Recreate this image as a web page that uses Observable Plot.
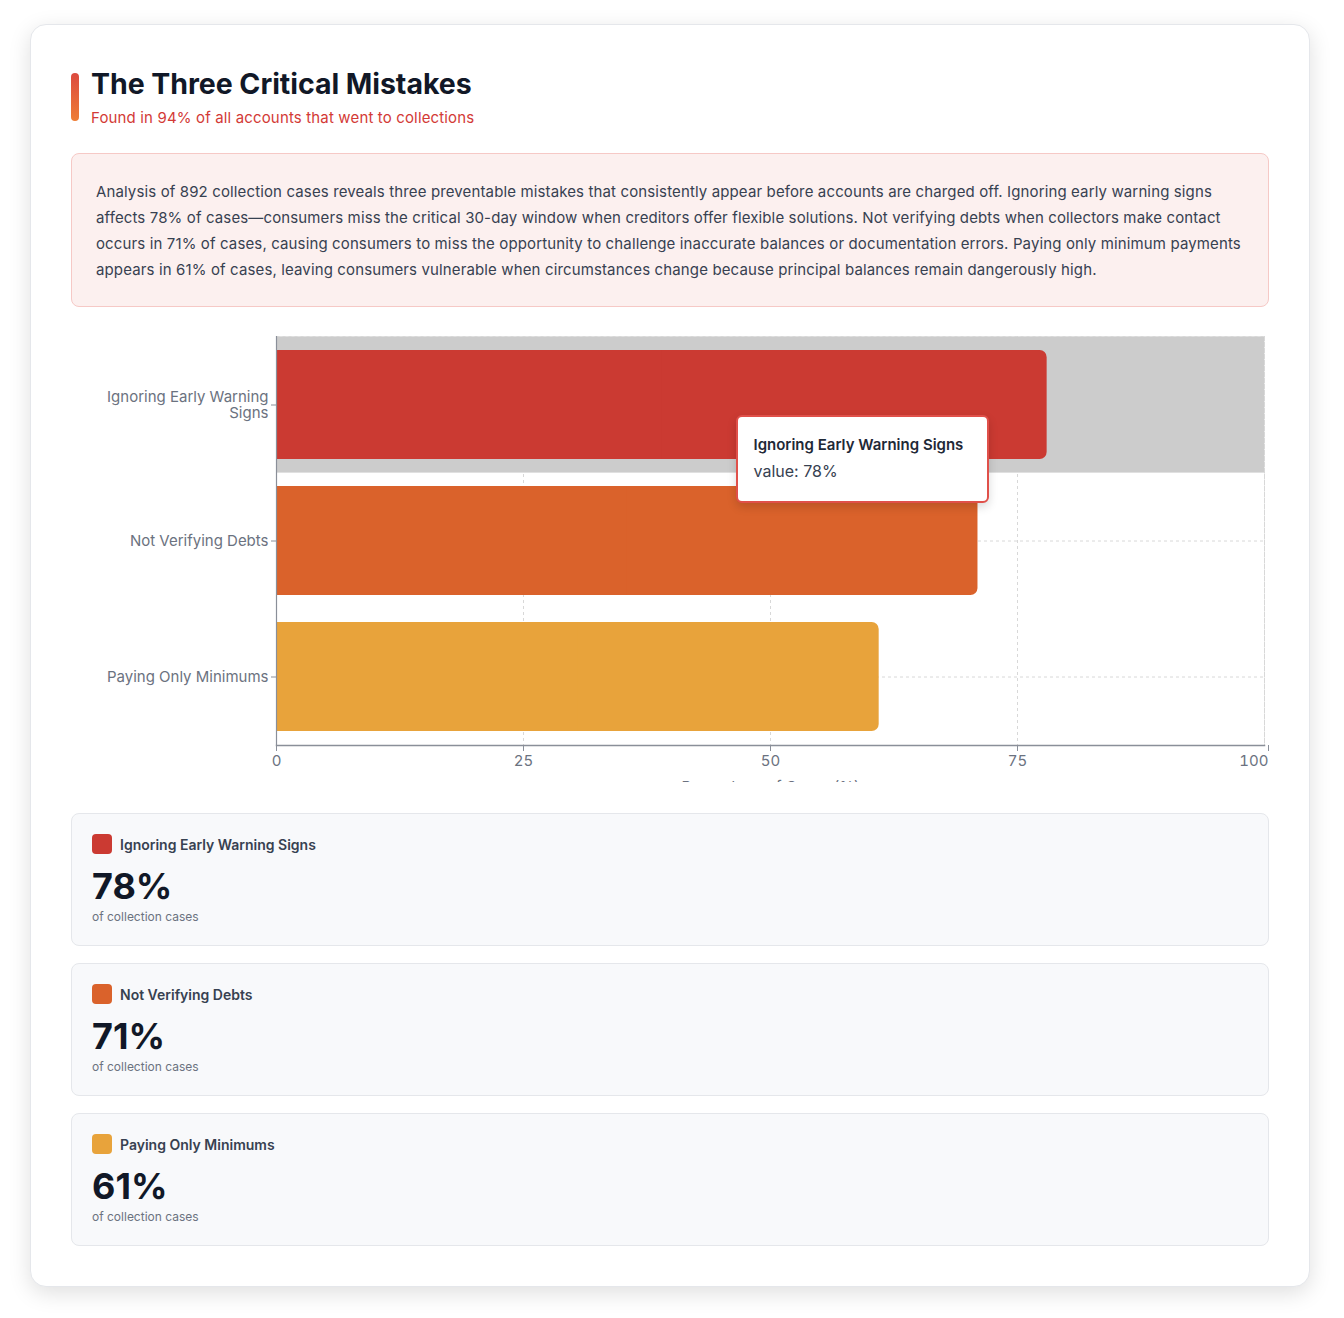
<!DOCTYPE html>
<html>
<head>
<meta charset="utf-8">
<script src="https://cdn.jsdelivr.net/npm/d3@7"></script>
<script src="https://cdn.jsdelivr.net/npm/@observablehq/plot@0.6"></script>
<style>
  html, body { margin: 0; padding: 0; background: #ffffff; font-family: Inter, "Noto Sans", sans-serif; }
  .card {
    position: absolute; left: 30px; top: 24px; width: 1198px;
    padding: 40px; background: #fff; border: 1px solid #e5e7eb; border-radius: 16px;
    box-shadow: 0 6px 22px rgba(0,0,0,0.13);
  }
  .header { position: relative; padding-left: 20px; height: 68px; margin-top: 0px; }
  .accent { position: absolute; left: 0; top: 8px; width: 8px; height: 48px; border-radius: 4px;
    background: linear-gradient(180deg, #dc4a3f, #ee7d35); }
  .title { font-size: 28.5px; font-weight: 700; color: #111827; line-height: 36px; letter-spacing: -0.05px; padding-top: 1px; }
  .subtitle { font-size: 15px; color: #d33a36; line-height: 20px; margin-top: 6px; letter-spacing: 0.15px; }
  .desc { margin-top: 20px; background: #fcf0ef; border: 1px solid #f6c9c6; border-radius: 8px;
    padding: 25px 24px 23px 24px; font-size: 15px; line-height: 26px; color: #374151; letter-spacing: 0.13px; }
  .chartwrap { position: relative; margin-top: 15px; height: 460px; clip-path: inset(0 -60px 0 -60px); }
  .chartwrap svg { overflow: visible; }
  .tip { position: absolute; left: 665px; top: 93px; width: 218px; height: 51px; padding: 16px 15.5px 16.5px 15.5px;
    background: #fff; border: 2px solid #e0504a; border-radius: 6px; box-shadow: 0 4px 10px rgba(0,0,0,0.15); }
  .tip .t1 { font-size: 15px; font-weight: 600; color: #1f2937; line-height: 24px; }
  .tip .t2 { font-size: 16px; color: #374151; line-height: 24px; margin-top: 2px; }
  .stats { margin-top: 31px; }
  .stat { background: #f8f9fb; border: 1px solid #e5e7eb; border-radius: 8px; padding: 20px; margin-bottom: 17px; }
  .stat:last-child { margin-bottom: 0; }
  .stat .row { display: flex; align-items: center; height: 20px; }
  .stat .sw { width: 20px; height: 20px; border-radius: 4px; margin-right: 8px; }
  .stat .lab { font-size: 14px; font-weight: 600; color: #374151; }
  .stat .num { font-size: 36px; font-weight: 700; color: #111827; line-height: 44px; margin-top: 10px; }
  .stat .sub { font-size: 12px; color: #6b7280; line-height: 16px; margin-top: 1px; }
</style>
</head>
<body>
<div class="card">
  <div class="header">
    <div class="accent"></div>
    <div class="title">The Three Critical Mistakes</div>
    <div class="subtitle">Found in 94% of all accounts that went to collections</div>
  </div>
  <div class="desc">Analysis of 892 collection cases reveals three preventable mistakes that consistently appear before accounts are charged off. Ignoring early warning signs affects 78% of cases—consumers miss the critical 30-day window when creditors offer flexible solutions. Not verifying debts when collectors make contact occurs in 71% of cases, causing consumers to miss the opportunity to challenge inaccurate balances or documentation errors. Paying only minimum payments appears in 61% of cases, leaving consumers vulnerable when circumstances change because principal balances remain dangerously high.</div>
  <div class="chartwrap" id="chart">
  </div>
  <div class="stats" id="stats"></div>
</div>
<script>
const categories = ["Ignoring Early Warning Signs", "Not Verifying Debts", "Paying Only Minimums"];
const values = [78, 71, 61];
const colors = ["#cb3a32", "#da622b", "#e8a33b"];
const xTicks = [0, 25, 50, 75, 100];
const highlighted = "Ignoring Early Warning Signs";
const xLabel = "Percentage of Cases (%)";
const statSub = "of collection cases";

const data = categories.map((c, i) => ({name: c, value: values[i], color: colors[i]}));
const wrapLabels = {"Ignoring Early Warning Signs": "Ignoring Early Warning\nSigns"};

const chart = Plot.plot({
  width: 1198,
  height: 478,
  marginTop: 14,
  marginBottom: 55,
  marginLeft: 205,
  marginRight: 5,
  style: {fontFamily: "Inter, sans-serif", fontSize: "15px", color: "#6b7280", background: "transparent"},
  x: {domain: [0, 100]},
  y: {domain: categories, paddingInner: 0.2, paddingOuter: 0.1},
  marks: [
    Plot.gridX(xTicks.slice(1), {stroke: "#d8d8d8", strokeOpacity: 1, strokeDasharray: "3,3"}),
    Plot.gridY(categories, {stroke: "#d8d8d8", strokeOpacity: 1, strokeDasharray: "3,3"}),
    Plot.barX(data.filter(d => d.name === highlighted), {y: "name", x1: 0, x2: 100, fill: "#cccccc", insetTop: -13.6, insetBottom: -13.6}),
    Plot.frame({stroke: "#d8d8d8", strokeDasharray: "3,3"}),
    Plot.barX(data, {y: "name", x1: 0, x2: "value", fill: d => d.color, rx: 7}),
    Plot.barX(data, {y: "name", x1: 0, x2: d => d.value / 2, fill: d => d.color}),
    Plot.ruleX([0], {stroke: "#8a8f99", strokeWidth: 1.2}),
    Plot.frame({anchor: "bottom", stroke: "#8a8f99", strokeWidth: 1.5}),
    Plot.axisY({tickSize: 5, tickPadding: 3, stroke: "#8a8f99", fill: "#6b7280", fontSize: 15, label: null,
      lineHeight: 1.08, tickFormat: d => wrapLabels[d] || d}),
    Plot.axisX(xTicks.slice(0, -1), {tickSize: 6, tickPadding: 4, stroke: "#8a8f99", fill: "#6b7280", fontSize: 15,
      label: xLabel, labelAnchor: "center", labelOffset: 46, labelArrow: "none"}),
    Plot.axisX(xTicks.slice(-1), {tickSize: 6, tickPadding: 4, stroke: "#8a8f99", fill: "#6b7280", fontSize: 15,
      textAnchor: "end", dx: 4, label: null})
  ]
});
const wrap = document.getElementById("chart");
wrap.appendChild(chart);
const tip = document.createElement("div");
tip.className = "tip";
const hd = data.find(d => d.name === highlighted);
tip.innerHTML = `<div class="t1">${hd.name}</div><div class="t2">value: ${hd.value}%</div>`;
wrap.appendChild(tip);

const stats = document.getElementById("stats");
data.forEach(d => {
  const el = document.createElement("div");
  el.className = "stat";
  el.innerHTML = `<div class="row"><div class="sw" style="background:${d.color}"></div><div class="lab">${d.name}</div></div>
    <div class="num">${d.value}%</div><div class="sub">${statSub}</div>`;
  stats.appendChild(el);
});
</script>
</body>
</html>
